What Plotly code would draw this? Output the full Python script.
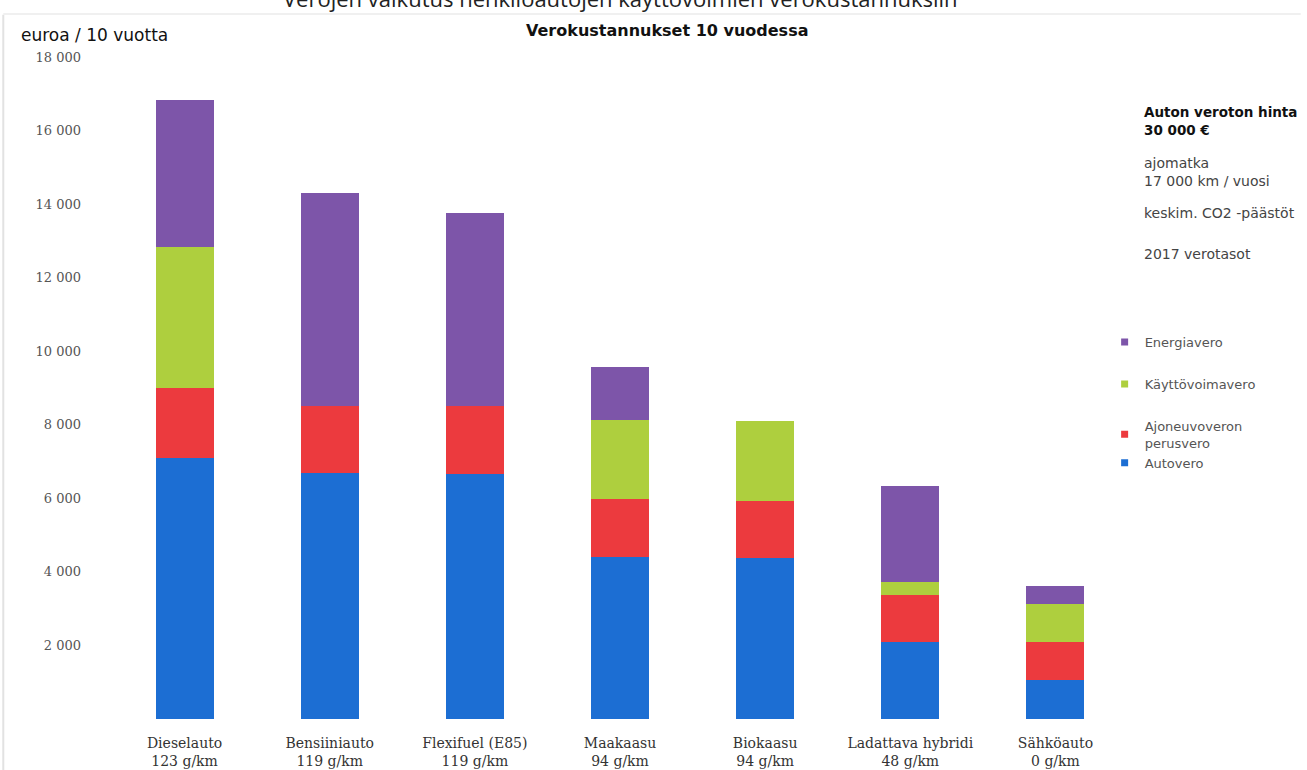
import plotly.graph_objects as go

# Vehicle types with average CO2 emissions
categories = [
    "Dieselauto<br>123 g/km",
    "Bensiiniauto<br>119 g/km",
    "Flexifuel (E85)<br>119 g/km",
    "Maakaasu<br>94 g/km",
    "Biokaasu<br>94 g/km",
    "Ladattava hybridi<br>48 g/km",
    "Sähköauto<br>0 g/km",
]

# Tax costs over 10 years, euros
autovero = [7100, 6700, 6650, 4400, 4380, 2100, 1060]
perusvero = [1900, 1800, 1850, 1580, 1550, 1270, 1040]
kayttovoimavero = [3830, 0, 0, 2150, 2170, 360, 1040]
energiavero = [3990, 5800, 5250, 1450, 0, 2610, 480]

series_names = ["Autovero", "Ajoneuvoveron<br>perusvero", "Käyttövoimavero", "Energiavero"]
series_values = [autovero, perusvero, kayttovoimavero, energiavero]
series_colors = ["#1C6ED3", "#EC3A3E", "#AECF3E", "#7D55A9"]

y_tick_values = [2000, 4000, 6000, 8000, 10000, 12000, 14000, 16000, 18000]
y_tick_labels = ["2 000", "4 000", "6 000", "8 000", "10 000", "12 000", "14 000", "16 000", "18 000"]

fig = go.Figure()

# stacked bars, bottom segment first
for name, vals, col in zip(series_names, series_values, series_colors):
    fig.add_trace(go.Bar(
        x=categories, y=vals, name=name,
        marker=dict(color=col, line=dict(width=0)),
        showlegend=False,
    ))

# small square legend swatches, top segment listed first;
# the two vehicle-tax entries sit closer together
legend_groups = {"Energiavero": "g0", "Käyttövoimavero": "g1",
                 "Ajoneuvoveron<br>perusvero": "g2", "Autovero": "g2"}
for name, col in zip(series_names[::-1], series_colors[::-1]):
    fig.add_trace(go.Scatter(
        x=[None], y=[None], mode="markers", name=name,
        marker=dict(symbol="square", size=7, color=col),
        legendgroup=legend_groups[name], showlegend=True,
    ))

fig.update_layout(
    barmode="stack",
    bargap=0.6,
    width=1307, height=770,
    margin=dict(l=112, r=179, t=57, b=51, autoexpand=False),
    paper_bgcolor="white",
    plot_bgcolor="white",
    font=dict(family="DejaVu Sans", color="#333"),
    showlegend=True,
    legend=dict(
        x=0.977, xanchor="left", y=0.592, yanchor="top",
        traceorder="grouped", tracegroupgap=22,
        itemwidth=30,
        font=dict(family="DejaVu Sans", size=13, color="#555"),
        bgcolor="rgba(0,0,0,0)",
    ),
    xaxis=dict(
        showline=False, showgrid=False, zeroline=False, ticks="",
        tickfont=dict(family="DejaVu Serif", size=14, color="#333"),
        ticklabelstandoff=14, automargin=False,
    ),
    yaxis=dict(
        range=[0, 18000], showline=False, showgrid=False, zeroline=False, ticks="",
        tickvals=y_tick_values, ticktext=y_tick_labels,
        tickfont=dict(family="DejaVu Serif", size=13, color="#555"),
        ticklabelstandoff=30, automargin=False,
    ),
)

annotations = [
    dict(text="Verojen vaikutus henkilöautojen käyttövoimien verokustannuksiin",
         x=0.5, y=1.089, xref="paper", yref="paper", xanchor="center", yanchor="middle",
         showarrow=False, font=dict(family="Open Sans", size=22, color="#222")),
    dict(text="<b>Verokustannukset 10 vuodessa</b>",
         x=0.546, y=1.04, xref="paper", yref="paper", xanchor="center", yanchor="middle",
         showarrow=False, font=dict(family="DejaVu Sans", size=16, color="#111")),
    dict(text="euroa / 10 vuotta",
         x=-0.092, y=1.033, xref="paper", yref="paper", xanchor="left", yanchor="middle",
         showarrow=False, font=dict(family="DejaVu Sans", size=17, color="#111")),
    dict(text="<b>Auton veroton hinta<br>30 000 €</b>",
         x=1.014, y=0.903, xref="paper", yref="paper", xanchor="left", yanchor="middle",
         align="left", showarrow=False, font=dict(family="DejaVu Sans", size=13.5, color="#111")),
    dict(text="ajomatka<br>17 000 km / vuosi",
         x=1.014, y=0.8265, xref="paper", yref="paper", xanchor="left", yanchor="middle",
         align="left", showarrow=False, font=dict(family="DejaVu Sans", size=14, color="#444")),
    dict(text="keskim. CO2 -päästöt",
         x=1.014, y=0.764, xref="paper", yref="paper", xanchor="left", yanchor="middle",
         align="left", showarrow=False, font=dict(family="DejaVu Sans", size=14, color="#444")),
    dict(text="2017 verotasot",
         x=1.014, y=0.702, xref="paper", yref="paper", xanchor="left", yanchor="middle",
         align="left", showarrow=False, font=dict(family="DejaVu Sans", size=14, color="#444")),
]
fig.update_layout(annotations=annotations)

# faint page frame lines
fig.add_shape(type="line", xref="paper", yref="paper",
              x0=-0.107, x1=-0.107, y0=-0.08, y1=1.064,
              line=dict(color="#e2e2e2", width=2))
fig.add_shape(type="line", xref="paper", yref="paper",
              x0=-0.107, x1=1.17, y0=1.065, y1=1.065,
              line=dict(color="#f0f0f0", width=2))

fig.write_html("out.html")
